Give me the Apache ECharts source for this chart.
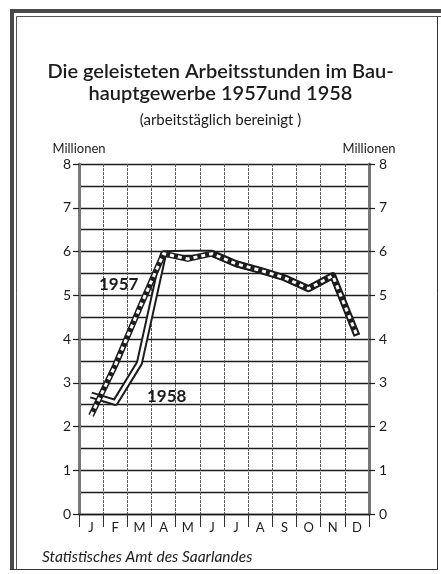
<!DOCTYPE html>
<html>

<head>
  <meta charset="utf-8" />
  <script src="https://cdn.jsdelivr.net/npm/echarts@6/dist/echarts.min.js"></script>
  <style>
    html, body { margin: 0; padding: 0; background: #fff; }
    #chart { width: 441px; height: 574px; }
  </style>
</head>

<body>
  <div id="chart"></div>
  <script type="text/javascript">
    // values (Millionen Stunden)
    const months = ['J', 'F', 'M', 'A', 'M', 'J', 'J', 'A', 'S', 'O', 'N', 'D'];
    const hours1957 = [2.25, 3.4, 4.7, 5.95, 5.83, 5.95, 5.72, 5.57, 5.4, 5.15, 5.45, 4.08];
    const hours1958 = [2.72, 2.55, 3.45, 5.95, 5.96, 5.96, 5.72, 5.57, 5.4, 5.15, 5.45, 4.08];
    const yTicks = [0, 1, 2, 3, 4, 5, 6, 7, 8];

    const chart = echarts.init(document.getElementById("chart"));
    const font = 'Lato, "DejaVu Sans", sans-serif';
    const ink = '#1c1c1c';

    function yAxis(pos, margin) {
      return {
        type: 'value',
        position: pos,
        min: yTicks[0],
        max: yTicks[yTicks.length - 1],
        interval: 1,
        name: 'Millionen',
        nameLocation: 'end',
        nameGap: 9,
        nameTextStyle: { color: ink, fontFamily: font, fontSize: 13, align: 'center' },
        axisLine: { show: true, lineStyle: { color: '#777', width: 3 } },
        axisTick: { show: true, length: 6, lineStyle: { color: ink, width: 1.2 } },
        axisLabel: { color: ink, fontFamily: font, fontSize: 14, margin: margin },
        splitLine: { show: pos == 'left', lineStyle: { color: ink, width: 1.4 } },
        minorTick: { show: false, splitNumber: 2 },
        minorSplitLine: { show: pos == 'left', lineStyle: { color: ink, width: 1.4 } }
      };
    }

    function rope(name, data, color, width, type, z) {
      return {
        name: name,
        type: 'line',
        data: data,
        showSymbol: false,
        symbol: 'none',
        z: z,
        silent: true,
        lineStyle: { color: color, width: width, type: type, cap: 'butt', join: 'round' }
      };
    }

    var option = {
      animation: false,
      backgroundColor: '#fff',
      title: [
        {
          text: 'Die geleisteten Arbeitsstunden im Bau-\nhauptgewerbe 1957und 1958',
          left: 'center',
          top: 56,
          textStyle: { color: ink, fontFamily: font, fontSize: 20, fontWeight: 600, lineHeight: 22 }
        },
        {
          text: '(arbeitstäglich bereinigt )',
          left: 'center',
          top: 108,
          textStyle: { color: ink, fontFamily: font, fontSize: 15, fontWeight: 'normal' }
        }
      ],
      grid: { left: 79, right: 72, top: 164, bottom: 60 },
      xAxis: {
        type: 'category',
        data: months,
        boundaryGap: true,
        axisLine: { show: true, lineStyle: { color: ink, width: 1.4 } },
        axisTick: { show: true, length: 13, interval: 0, lineStyle: { color: '#333', width: 1 } },
        axisLabel: { color: ink, fontFamily: font, fontSize: 13, margin: 7, interval: 0 },
        splitLine: { show: true, interval: 0, lineStyle: { color: '#555', width: 1, type: [3, 1] } }
      },
      yAxis: [yAxis('left', 8), yAxis('right', 10)],
      series: [
        rope('1958', hours1958, ink, 7, 'solid', 3),
        rope('1958 innen', hours1958, '#fff', 3, 'solid', 4),
        rope('1957', hours1957, ink, 6, 'solid', 5),
        rope('1957 innen', hours1957, '#fff', 3, [4, 4], 6)
      ],
      graphic: [
        // frame of the printed sheet
        { type: 'rect', shape: { x: 10, y: 9, width: 4, height: 561 }, style: { fill: '#4a4a4a' } },
        { type: 'rect', shape: { x: 10, y: 9, width: 431, height: 4 }, style: { fill: '#4a4a4a' } },
        { type: 'line', shape: { x1: 16.5, y1: 16.5, x2: 16.5, y2: 570 }, style: { stroke: '#555', lineWidth: 1 } },
        { type: 'line', shape: { x1: 16.5, y1: 16.5, x2: 441, y2: 16.5 }, style: { stroke: '#555', lineWidth: 1 } },
        { type: 'line', shape: { x1: 437.5, y1: 16.5, x2: 437.5, y2: 570 }, style: { stroke: '#333', lineWidth: 1 } },
        { type: 'line', shape: { x1: 10, y1: 569.5, x2: 438, y2: 569.5 }, style: { stroke: '#333', lineWidth: 1.2 } },
        // series labels
        { type: 'text', left: 99, top: 276, z: 10, style: { text: '1957', fill: ink, font: 'bold 17px ' + font } },
        { type: 'text', left: 147, top: 388, z: 10, style: { text: '1958', fill: ink, font: 'bold 17px ' + font } },
        { type: 'text', left: 42, top: 549, style: { text: 'Statistisches Amt des Saarlandes', fill: ink, font: 'italic 15.5px ' + font } }
      ]
    };

    chart.setOption(option);

    window.onresize = () => {
      chart?.resize();
    };
  </script>
</body>

</html>
